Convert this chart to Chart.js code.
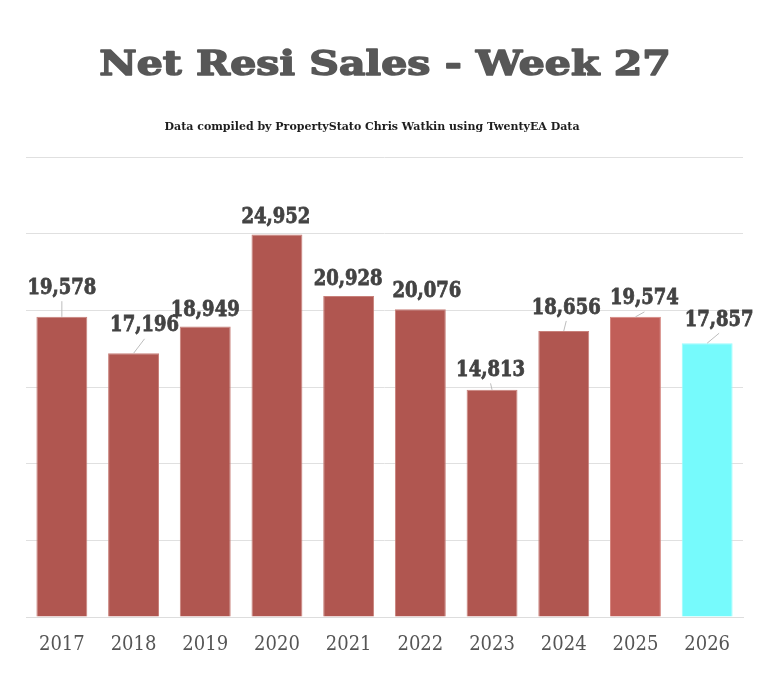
<!DOCTYPE html>
<html>
<head>
<meta charset="utf-8">
<script src="https://cdn.jsdelivr.net/npm/chart.js@4.4.1/dist/chart.umd.min.js"></script>
<style>
html,body{margin:0;padding:0;background:#fff;}
#wrap{width:771px;height:673px;position:relative;}
</style>
</head>
<body>
<div id="wrap"><canvas id="c" width="771" height="673"></canvas></div>
<script>
const years = ['2017','2018','2019','2020','2021','2022','2023','2024','2025','2026'];
const sales = [19578, 17196, 18949, 24952, 20928, 20076, 14813, 18656, 19574, 17857];
const barColors = ['#B05650','#B05650','#B05650','#B05650','#B05650','#B05650','#B05650','#B05650','#C15E58','#76FAFC'];
const borderColors = ['#C8807A','#C8807A','#C8807A','#C8807A','#C8807A','#C8807A','#C8807A','#C8807A','#D4867F','#9AFCFD'];
const titleText = 'Net Resi Sales - Week 27';
const subtitleText = 'Data compiled by PropertyStato Chris Watkin using TwentyEA Data';
// label placement relative to the top-centre of each bar: [dx, dy, leader line?]
const labelOffsets = [[0,-28.6,1],[11,-27.5,1],[0,-16,0],[-1,-17,0],[-0.5,-17,0],[6.5,-18,0],[-1.5,-19.5,1],[2.5,-23,1],[9,-18,1],[12,-23,1]];

const headings = {
  id: 'headings',
  afterDraw(chart) {
    const ctx = chart.ctx;
    ctx.save();
    ctx.textAlign = 'center';
    ctx.textBaseline = 'alphabetic';
    ctx.save();
    ctx.translate(385, 75);
    ctx.scale(1.14, 0.92);
    ctx.font = 'bold 36px "DejaVu Serif", serif';
    ctx.fillStyle = '#575757';
    ctx.strokeStyle = '#575757';
    ctx.lineWidth = 1.6;
    ctx.lineJoin = 'round';
    ctx.fillText(titleText, 0, 0);
    ctx.strokeText(titleText, 0, 0);
    ctx.restore();
    ctx.font = 'bold 11px "DejaVu Serif", serif';
    ctx.fillStyle = '#1e1e1e';
    ctx.fillText(subtitleText, 372, 130);
    ctx.restore();
  }
};

const valueLabels = {
  id: 'valueLabels',
  afterDatasetsDraw(chart) {
    const ctx = chart.ctx;
    const meta = chart.getDatasetMeta(0);
    const fmt = new Intl.NumberFormat('en-US');
    ctx.save();
    meta.data.forEach((bar, i) => {
      const off = labelOffsets[i];
      const lx = bar.x + off[0];
      const ly = bar.y + off[1];
      if (off[2]) {
        ctx.strokeStyle = '#bdbdbd';
        ctx.lineWidth = 1;
        ctx.beginPath();
        ctx.moveTo(lx, ly + 13);
        ctx.lineTo(bar.x, bar.y);
        ctx.stroke();
      }
      const txt = fmt.format(sales[i]);
      ctx.save();
      ctx.translate(lx, ly);
      ctx.scale(1, 1.08);
      ctx.font = 'bold 20px "DejaVu Serif Condensed", "DejaVu Serif", serif';
      ctx.fillStyle = '#434343';
      ctx.strokeStyle = '#434343';
      ctx.lineWidth = 0.7;
      ctx.textAlign = 'center';
      ctx.textBaseline = 'middle';
      ctx.fillText(txt, 0, 0);
      ctx.strokeText(txt, 0, 0);
      ctx.restore();
    });
    ctx.restore();
  }
};

new Chart(document.getElementById('c'), {
  type: 'bar',
  data: {
    labels: years,
    datasets: [{
      data: sales,
      backgroundColor: barColors,
      borderColor: borderColors,
      borderWidth: 1,
      barPercentage: 0.71,
      categoryPercentage: 1.0
    }]
  },
  options: {
    responsive: false,
    animation: false,
    devicePixelRatio: 1,
    layout: { padding: { top: 157, left: 26, right: 28, bottom: 0 } },
    plugins: {
      legend: { display: false },
      tooltip: { enabled: false },
      title: { display: false },
      subtitle: { display: false }
    },
    scales: {
      x: {
        grid: { display: false, drawTicks: false },
        border: { display: true, color: '#dddddd', width: 1 },
        ticks: {
          color: '#555555',
          padding: 18,
          font: { family: '"DejaVu Serif Condensed", "DejaVu Serif", serif', size: 20, lineHeight: 1.0 }
        }
      },
      y: {
        min: 0,
        max: 30000,
        ticks: { display: false, stepSize: 5000 },
        grid: { color: '#e0e0e0', drawTicks: false, lineWidth: 1 },
        border: { display: false }
      }
    }
  },
  plugins: [valueLabels, headings]
});
</script>
</body>
</html>
